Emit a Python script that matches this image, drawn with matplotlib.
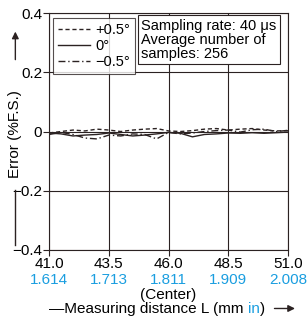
import matplotlib.pyplot as plt
import numpy as np

plt.rcParams['font.family'] = ['Liberation Sans', 'DejaVu Sans']

# measuring distance (mm) and errors (%F.S.)
dist = [41.0, 41.5, 42.0, 42.5, 43.0, 43.5, 44.0, 44.5, 45.0, 45.5, 46.0,
        46.5, 47.0, 47.5, 48.0, 48.5, 49.0, 49.5, 50.0, 50.5, 51.0]
err_plus = [-0.005, 0.000, 0.005, 0.002, 0.008, 0.005, 0.000, 0.005, 0.008, 0.010, 0.002,
            0.000, 0.003, 0.008, 0.010, 0.005, 0.008, 0.010, 0.005, 0.002, 0.003]
err_zero = [-0.005, -0.008, -0.015, -0.012, -0.010, -0.005, -0.010, -0.015, -0.012, -0.008, -0.003,
            -0.006, -0.018, -0.010, -0.008, -0.005, -0.006, -0.004, -0.006, -0.004, -0.002]
err_minus = [-0.010, -0.003, -0.010, -0.022, -0.025, -0.012, -0.015, -0.008, -0.010, -0.025, -0.003,
             -0.008, -0.005, 0.000, 0.003, 0.005, -0.002, 0.006, 0.008, 0.000, 0.004]

xticks = [41.0, 43.5, 46.0, 48.5, 51.0]
xlabels_mm = ['41.0', '43.5', '46.0', '48.5', '51.0']
xlabels_in = ['1.614', '1.713', '1.811', '1.909', '2.008']
yticks = [-0.4, -0.2, 0, 0.2, 0.4]
ylabels = ['\u22120.4', '\u22120.2', '0', '0.2', '0.4']

dark = '#2b2222'
blue = '#1a9ee0'
fs = 11
fs_box = 10.5

fig = plt.figure(figsize=(3.07, 3.20), dpi=100)
ax = fig.add_axes([0.16, 0.219, 0.778, 0.74])

ax.plot(dist, err_plus, color=dark, lw=1.0, ls=(0, (3, 2)), label='+0.5\u00b0')
ax.plot(dist, err_zero, color=dark, lw=1.0, ls='-', label='0\u00b0')
ax.plot(dist, err_minus, color=dark, lw=1.0, ls=(0, (5, 2, 1, 2)), label='\u22120.5\u00b0')

ax.set_xlim(41.0, 51.0)
ax.set_ylim(-0.4, 0.4)
ax.set_xticks(xticks)
ax.set_xticklabels(xlabels_mm, fontsize=fs)
ax.set_yticks(yticks)
ax.set_yticklabels(ylabels, fontsize=fs)
ax.tick_params(direction='out', length=4, width=0.8, color=dark, pad=1)
ax.grid(True, color=dark, lw=0.8)
for s in ax.spines.values():
    s.set_color(dark)
    s.set_linewidth(0.8)

for x, t in zip(xticks, xlabels_in):
    ax.text(x, -0.125, t, transform=ax.get_xaxis_transform(), ha='center', va='center',
            fontsize=fs, color=blue)

ax.text(46.0, -0.19, '(Center)', transform=ax.get_xaxis_transform(), ha='center',
        va='center', fontsize=fs)

# x axis caption: black text with a blue "in" placed by measuring the prefix
pre = '\u2014Measuring distance L (mm '
renderer = fig.canvas.get_renderer()
probe = fig.text(0.16, 0.022, pre, fontsize=fs, ha='left', va='baseline')
x_in = probe.get_window_extent(renderer).x1 / fig.bbox.width
probe.remove()
probe = fig.text(0.16, 0.022, pre + 'in', fontsize=fs, ha='left', va='baseline')
x_par = probe.get_window_extent(renderer).x1 / fig.bbox.width
probe.remove()
fig.text(0.16, 0.022, pre, fontsize=fs, ha='left', va='baseline', color='black')
fig.text(x_in, 0.022, 'in', fontsize=fs, ha='left', va='baseline', color=blue)
fig.text(x_par, 0.022, ')', fontsize=fs, ha='left', va='baseline', color='black')
fig.add_artist(plt.Annotation('', xy=(0.97, 0.036), xytext=(0.885, 0.036),
                              xycoords='figure fraction',
                              arrowprops=dict(arrowstyle='-|>', color=dark, lw=1,
                                              mutation_scale=10)))

# y axis caption with arrow and line
fig.text(0.05, 0.581, 'Error (%F.S.)', fontsize=fs, rotation=90, ha='center', va='center')
fig.add_artist(plt.Annotation('', xy=(0.05, 0.91), xytext=(0.05, 0.805),
                              xycoords='figure fraction',
                              arrowprops=dict(arrowstyle='-|>', color=dark, lw=1,
                                              mutation_scale=10)))
fig.add_artist(plt.Line2D([0.05, 0.05], [0.405, 0.235], color=dark, lw=1))

leg = ax.legend(loc='upper left', bbox_to_anchor=(0.005, 0.99), fontsize=fs_box, frameon=True,
                fancybox=False, edgecolor=dark, handlelength=2.2, handletextpad=0.4,
                borderpad=0.3, labelspacing=0.15, borderaxespad=0.2)
leg.get_frame().set_linewidth(0.8)

ax.text(0.385, 0.977, 'Sampling rate: 40 \u03bcs\nAverage number of\nsamples: 256',
        transform=ax.transAxes, ha='left', va='top', fontsize=fs_box, linespacing=1.0,
        bbox=dict(boxstyle='square,pad=0.22', fc='white', ec=dark, lw=0.8))

fig.savefig('out.png', dpi=100)
